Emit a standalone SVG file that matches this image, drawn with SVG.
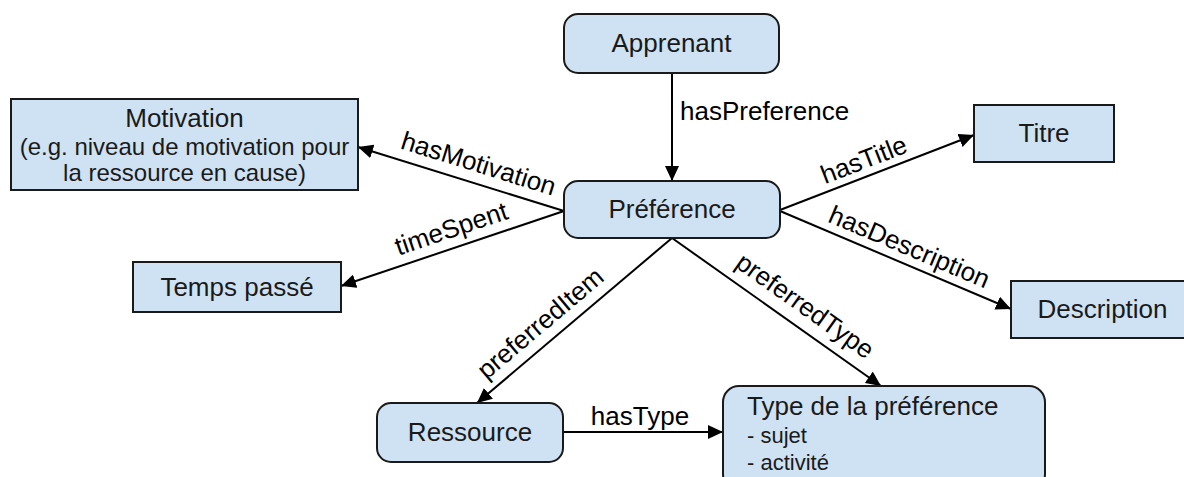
<svg xmlns="http://www.w3.org/2000/svg" width="1184" height="477" viewBox="0 0 1184 477">
<defs>
<style>
.box{fill:#cfe2f3;stroke:#1a1a1a;stroke-width:2}
.t{font-family:"Liberation Sans",Arial,sans-serif;font-size:26px;fill:#1a1a1a;text-anchor:middle}
.s{font-family:"Liberation Sans",Arial,sans-serif;font-size:24px;fill:#1a1a1a;text-anchor:middle}
.l{font-family:"Liberation Sans",Arial,sans-serif;font-size:26px;fill:#000;text-anchor:middle}
.e{stroke:#000;stroke-width:2;fill:none;marker-end:url(#ah)}
</style>
<marker id="ah" markerUnits="userSpaceOnUse" markerWidth="16" markerHeight="14" refX="15" refY="7" orient="auto">
<path d="M0,0 L15,7 L0,14 z" fill="#000"/>
</marker>
</defs>
<rect width="1184" height="477" fill="#fff"/>
<g id="connectors">
<line class="e" x1="672" y1="73" x2="672" y2="181"/>
<line class="e" x1="564" y1="211" x2="358" y2="147"/>
<line class="e" x1="564" y1="211" x2="341" y2="286"/>
<line class="e" x1="780" y1="210" x2="974" y2="135"/>
<line class="e" x1="780" y1="211" x2="1011" y2="309"/>
<line class="e" x1="672" y1="238" x2="477" y2="403"/>
<line class="e" x1="672" y1="238" x2="881" y2="386"/>
<line class="e" x1="563" y1="432" x2="723" y2="432"/>
<text class="l" x="680" y="120" style="text-anchor:start">hasPreference</text>
<text class="l" transform="translate(476,172) rotate(17.3)">hasMotivation</text>
<text class="l" transform="translate(454,237) rotate(-18.6)">timeSpent</text>
<text class="l" transform="translate(867,168) rotate(-21.1)">hasTitle</text>
<text class="l" transform="translate(906,255) rotate(23)">hasDescription</text>
<text class="l" transform="translate(546,330) rotate(-40.2)">preferredItem</text>
<text class="l" transform="translate(800,313) rotate(35.3)">preferredType</text>
<text class="l" x="640" y="425">hasType</text>
</g>
<g id="apprenant">
<rect class="box" x="564" y="14" width="215" height="59" rx="14"/>
<text class="t" x="671.5" y="52">Apprenant</text>
</g>
<g id="preference">
<rect class="box" x="564" y="181" width="216" height="57" rx="14"/>
<text class="t" x="672" y="218">Préférence</text>
</g>
<g id="motivation">
<rect class="box" x="11" y="99" width="347" height="91"/>
<text class="t" x="184.5" y="127">Motivation</text>
<text class="s" x="184.5" y="155">(e.g. niveau de motivation pour</text>
<text class="s" x="184.5" y="181">la ressource en cause)</text>
</g>
<g id="titre">
<rect class="box" x="974" y="105" width="140" height="57"/>
<text class="t" x="1044" y="142">Titre</text>
</g>
<g id="temps">
<rect class="box" x="133" y="262" width="208" height="50"/>
<text class="t" x="237" y="296">Temps passé</text>
</g>
<g id="description">
<rect class="box" x="1011" y="281" width="185" height="57"/>
<text class="t" x="1102.5" y="318">Description</text>
</g>
<g id="ressource">
<rect class="box" x="377" y="403" width="186" height="59" rx="14"/>
<text class="t" x="470" y="441">Ressource</text>
</g>
<g id="type">
<rect class="box" x="723" y="386" width="322" height="104" rx="16"/>
<text class="t" x="747" y="415" style="text-anchor:start">Type de la préférence</text>
<text class="t" x="747" y="443" style="text-anchor:start;font-size:22px">- sujet</text>
<text class="t" x="747" y="470" style="text-anchor:start;font-size:22px">- activité</text>
</g>
</svg>
